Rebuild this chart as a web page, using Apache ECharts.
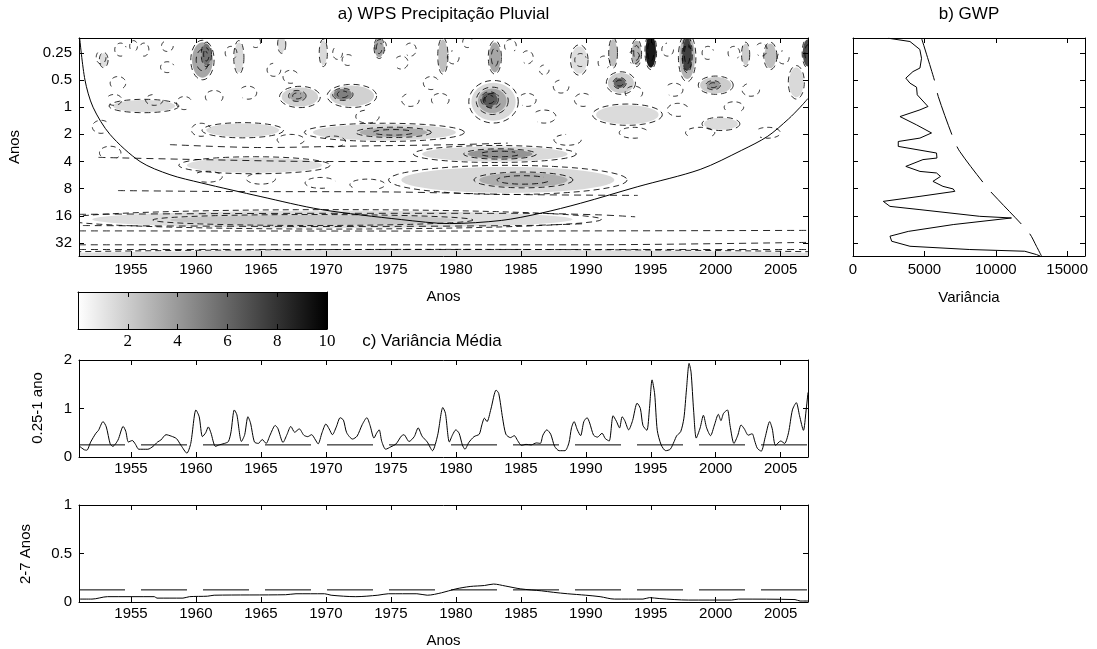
<!DOCTYPE html>
<html><head><meta charset="utf-8">
<script src="https://cdn.jsdelivr.net/npm/echarts@6/dist/echarts.min.js"></script>
<style>html,body{margin:0;padding:0;background:#fff}#c{width:1097px;height:649px}</style>
</head><body><div id="c"></div>
<script>
// ---------------- data ----------------
const yearTicks = [1955,1960,1965,1970,1975,1980,1985,1990,1995,2000,2005];
const periodTicks = [0.25,0.5,1,2,4,8,16,32];
const varianceTicks = [0,5000,10000,15000];
const colorbarTicks = [2,4,6,8,10];
const c1Ticks = [0,1,2];
const c2Ticks = [0,0.5,1];
const yearRange = [1951, 2007.1];
const periodRange = [0.171, 44.6];
const varianceRange = [0, 16250];
const colorbarRange = [0, 10];

// cone of influence [year, period]
const coi = [[1951.05,0.17],[1951.46,0.5],[1952.08,1],[1953.38,2],[1955.7,4],[1958,5.6],[1960.4,6.9],[1965,9.8],[1969.6,13.6],[1975.8,17.6],[1979.5,19.5],[1983.5,18],[1986.5,15],[1989.6,11.6],[1994,7.6],[1998.8,4.9],[2002,3],[2004,2.1],[2005.6,1.35],[2006.5,1],[2007.1,0.8]];

// global wavelet power [variance, period]
const gwp = [[2470,0.172],[3990,0.187],[4680,0.229],[4800,0.287],[4690,0.368],[4200,0.403],[3700,0.476],[3990,0.541],[4450,0.6],[4500,0.729],[5250,0.982],[4690,1.07],[3290,1.27],[4450,1.57],[5500,1.93],[4690,2.2],[3170,2.4],[3170,2.72],[5850,3.22],[5880,3.66],[4900,3.81],[3700,4.53],[4690,5.15],[5850,5.36],[6130,5.85],[5600,6.64],[6300,7.54],[7020,8.06],[7130,8.57],[4690,9.73],[2120,11.06],[2590,12.57],[4690,13.66],[8880,16.2],[11100,16.9],[7020,20],[3870,23.8],[2590,26.9],[2710,30.6],[3990,34.8],[8180,37.8],[12030,39.5],[12850,43],[13100,44.6]];
// significance of GWP [variance, period]
const gwpSig = [[4800,0.172],[5730,0.52],[5970,0.76],[7020,2.2],[7480,3.1],[9460,8.0],[10170,10.6],[12330,24.7],[12850,34.8],[13200,44.6]];

// filled power regions [year, period, halfWidthYears, halfHeightOctaves, level]
const blobs = [
 [1979,44,32,0.2,1.3],[1970.5,17.5,18.5,0.32,1.3],[1969,17.8,11,0.18,2.2],
 [1984,6.4,8.2,0.48,1.5],[1985.2,6.4,3.4,0.26,3.2],
 [1983,3.3,5.6,0.28,1.5],[1983.4,3.3,2.5,0.17,4.2],
 [1974.5,1.9,5.5,0.3,1.5],[1975.2,1.9,2.6,0.17,3.3],
 [1963.6,1.8,2.8,0.25,1.4],[1964.5,4.4,5.2,0.28,1.3],[1956,0.97,2.4,0.22,1.4],
 [1968,0.77,1.4,0.35,1.8],[1967.8,0.75,0.6,0.18,3.5],
 [1972,0.75,1.7,0.38,1.8],[1971.3,0.72,0.7,0.2,5],
 [1982.9,0.87,1.7,0.7,1.5],[1982.8,0.85,1.1,0.45,3.5],[1982.6,0.82,0.6,0.25,6.5],
 [1993.2,1.21,2.4,0.35,1.4],[2000.4,1.53,1.3,0.22,1.4],
 [1992.7,0.54,1.0,0.37,2],[1992.6,0.54,0.45,0.18,6],
 [2000,0.57,1.2,0.3,2],[1999.8,0.57,0.5,0.15,4],
 [1995,0.24,0.4,0.6,9],[1997.8,0.28,0.6,0.8,3],[1997.8,0.26,0.35,0.6,7.5],
 [1993.9,0.25,0.35,0.45,3],[1992.1,0.25,0.3,0.5,2.5],[2004.2,0.27,0.45,0.45,2.5],
 [2006.2,0.53,0.55,0.55,1.5],[2007.1,0.25,0.4,0.5,7],[1983,0.28,0.45,0.55,3.5],
 [1979,0.27,0.35,0.6,2.5],[1974.1,0.22,0.35,0.35,3.5],[1969.8,0.25,0.28,0.45,1.5],
 [1960.5,0.3,0.8,0.65,3.5],[1960.8,0.26,0.35,0.4,5.5],[1963.3,0.28,0.35,0.55,1.5],
 [1966.6,0.2,0.28,0.3,1.5],[1952.9,0.3,0.3,0.25,1.3],[1989.5,0.3,0.6,0.5,1.3],[2002.3,0.26,0.28,0.4,2]
];
// small dashed contour fragments [year, period, halfWidthYears, halfHeightOctaves]
const rings = [
 [1952.7,0.28,0.5,0.3],[1954.2,0.23,0.6,0.3],[1955.2,0.21,0.4,0.25],[1956,0.23,0.5,0.3],[1957.8,0.21,0.6,0.25],
 [1957.8,0.36,0.7,0.25],[1954,0.54,0.8,0.3],[1953.7,0.83,0.8,0.25],[1956.8,0.83,0.9,0.25],[1959.1,0.9,0.8,0.3],
 [1961.4,0.77,0.9,0.3],[1964,0.69,0.9,0.3],[1966,0.385,0.7,0.3],[1967.3,0.46,0.8,0.3],[1962.7,0.25,0.6,0.3],
 [1964.6,0.19,0.5,0.25],[1970.9,0.25,0.5,0.3],[1971.7,0.3,0.6,0.25],[1974.2,0.21,0.6,0.3],[1975.8,0.32,0.7,0.3],
 [1976.5,0.83,0.9,0.3],[1960.4,1.78,1.0,0.3],[1967.3,2.3,1.4,0.25],[1970.6,2.4,1.2,0.25],[1973.2,1.27,1.2,0.3],
 [1952.7,1.65,0.9,0.3],[1953.4,3.2,1.1,0.3],[1960.9,5.9,1.5,0.25],[1965,6.2,1.5,0.25],[1969.6,6.9,1.6,0.25],
 [1973.2,7.2,1.8,0.25],[1976.5,0.23,0.6,0.3],[1979.8,0.28,0.6,0.3],[1980.9,0.19,0.5,0.25],[1984.2,0.21,0.6,0.3],
 [1985.5,0.28,0.6,0.3],[1986.8,0.385,0.5,0.22],[1989.6,0.30,0.6,0.3],[1991.4,0.32,0.6,0.3],[1993.7,0.28,0.6,0.3],
 [1996.3,0.23,0.6,0.3],[1999.4,0.25,0.6,0.3],[2001.4,0.25,0.6,0.3],[2003.5,0.23,0.6,0.3],[2005.2,0.28,0.6,0.3],
 [1978.1,0.54,0.8,0.3],[1978.8,0.83,0.9,0.3],[1985.5,0.83,0.9,0.3],[1988.1,0.59,0.8,0.3],[1989.8,0.83,0.9,0.3],
 [1993.7,0.69,0.9,0.3],[1996.8,0.64,0.9,0.3],[2002.7,0.64,0.9,0.3],[1997.1,1.07,1.1,0.3],[2001.4,1.0,1.0,0.25],
 [1986.8,1.27,1.2,0.3],[1988.6,2.3,1.4,0.25],[1993.7,1.92,1.5,0.25],[1998.8,1.92,1.5,0.25],[2004,1.92,1.3,0.25]
];
// long dashed contour lines [year, period]
const contourPaths = [
 [[1951,15.4],[1970,15],[1985,15],[1991,15.6],[1993.8,16.4]],
 [[1951.3,20.5],[1970,21],[1985,20.5],[1989.8,19.6]],
 [[1951,23.5],[1980,23.6],[2007.1,23.2]],
 [[1951,33.5],[1990,33.5],[2007.1,31.5]],
 [[1951,37.8],[2007.1,37.8]],
 [[1954,8.4],[1962,8.6],[1975,8.7],[1985,9.3],[1994,9.5]],
 [[1952.5,3.6],[1960,3.8],[1970,4.0],[1977,4.0]],
 [[1958,2.6],[1965,2.8],[1972,2.7],[1980,2.6],[1984,2.5]]
];

// scale-averaged variance, 0.25-1 year band [year, value]
const band1 = [[1951.05,0.22],[1951.4,0.15],[1951.6,0.14],[1951.9,0.31],[1952.3,0.49],[1952.5,0.55],[1952.85,0.73],[1953.1,0.62],[1953.4,0.27],[1953.6,0.22],[1954.0,0.35],[1954.4,0.63],[1954.6,0.53],[1954.8,0.31],[1955.1,0.34],[1955.35,0.26],[1955.6,0.16],[1956.3,0.16],[1956.7,0.22],[1957.05,0.31],[1957.3,0.35],[1957.7,0.46],[1958.1,0.43],[1958.5,0.38],[1958.85,0.24],[1959.3,0.08],[1959.6,0.28],[1960.0,0.97],[1960.25,0.83],[1960.5,0.42],[1960.75,0.5],[1960.95,0.62],[1961.15,0.5],[1961.5,0.22],[1961.8,0.25],[1962.2,0.28],[1962.5,0.32],[1962.7,0.52],[1962.95,0.97],[1963.15,0.87],[1963.5,0.32],[1963.75,0.46],[1964.0,0.83],[1964.2,0.7],[1964.5,0.31],[1964.8,0.28],[1965.1,0.36],[1965.4,0.28],[1965.7,0.45],[1966.1,0.65],[1966.3,0.59],[1966.7,0.3],[1967.0,0.46],[1967.3,0.63],[1967.6,0.51],[1967.95,0.58],[1968.3,0.45],[1968.6,0.42],[1968.9,0.46],[1969.2,0.35],[1969.4,0.27],[1969.7,0.5],[1970.0,0.68],[1970.25,0.58],[1970.5,0.46],[1970.8,0.62],[1971.1,0.81],[1971.35,0.76],[1971.6,0.5],[1972.05,0.37],[1972.4,0.43],[1972.8,0.67],[1973.15,0.81],[1973.4,0.65],[1973.7,0.39],[1973.9,0.49],[1974.1,0.56],[1974.3,0.32],[1974.6,0.16],[1975.0,0.21],[1975.4,0.27],[1975.8,0.43],[1976.0,0.46],[1976.4,0.32],[1976.8,0.42],[1977.1,0.6],[1977.4,0.43],[1977.8,0.31],[1978.2,0.13],[1978.6,0.45],[1979.0,1.02],[1979.2,0.9],[1979.5,0.31],[1979.75,0.46],[1980.0,0.56],[1980.25,0.49],[1980.5,0.25],[1980.7,0.16],[1981.0,0.3],[1981.4,0.42],[1981.8,0.47],[1982.0,0.66],[1982.2,0.8],[1982.4,0.73],[1982.7,0.99],[1983.1,1.38],[1983.3,1.31],[1983.6,0.8],[1983.85,0.47],[1984.2,0.4],[1984.5,0.44],[1984.75,0.34],[1985.05,0.24],[1985.4,0.26],[1985.8,0.25],[1986.2,0.29],[1986.5,0.28],[1986.7,0.45],[1987.0,0.56],[1987.3,0.47],[1987.6,0.22],[1987.95,0.13],[1988.4,0.13],[1988.7,0.29],[1988.9,0.6],[1989.1,0.73],[1989.35,0.56],[1989.6,0.44],[1989.85,0.73],[1990.1,0.81],[1990.3,0.7],[1990.6,0.45],[1990.9,0.41],[1991.25,0.49],[1991.5,0.38],[1991.8,0.33],[1992.1,0.85],[1992.35,0.74],[1992.6,0.6],[1992.8,0.83],[1993.0,0.75],[1993.3,0.56],[1993.6,0.75],[1993.95,1.11],[1994.2,1.0],[1994.4,0.65],[1994.7,0.55],[1994.9,1.0],[1995.1,1.59],[1995.3,1.3],[1995.5,0.55],[1995.8,0.25],[1996.15,0.13],[1996.5,0.16],[1996.8,0.32],[1997.0,0.44],[1997.3,0.52],[1997.55,0.8],[1997.75,1.4],[1997.95,1.93],[1998.1,1.75],[1998.3,0.95],[1998.5,0.39],[1998.8,0.6],[1999.05,0.86],[1999.3,0.6],[1999.6,0.44],[1999.9,0.66],[2000.2,0.88],[2000.4,0.75],[2000.6,0.9],[2000.9,0.97],[2001.1,0.65],[2001.4,0.28],[2001.7,0.45],[2001.95,0.66],[2002.2,0.58],[2002.5,0.45],[2002.8,0.48],[2003.0,0.33],[2003.2,0.18],[2003.5,0.12],[2003.8,0.4],[2004.15,0.73],[2004.35,0.58],[2004.6,0.24],[2005.0,0.33],[2005.3,0.28],[2005.6,0.5],[2005.9,0.97],[2006.2,1.12],[2006.45,0.85],[2006.75,0.55],[2006.95,0.95],[2007.1,1.33]];
// scale-averaged variance, 2-7 year band [year, value]
const band2 = [[1951,0.03],[1952,0.03],[1953.2,0.055],[1956.8,0.055],[1957,0.04],[1959,0.04],[1959.5,0.055],[1960.9,0.06],[1961.4,0.07],[1966.9,0.075],[1967.7,0.085],[1969.9,0.085],[1970.4,0.07],[1972.3,0.055],[1974,0.07],[1974.8,0.085],[1977,0.085],[1977.8,0.07],[1978.9,0.095],[1980,0.135],[1981.1,0.16],[1982.2,0.17],[1982.9,0.185],[1983.8,0.165],[1985,0.135],[1986.6,0.115],[1987.5,0.1],[1988.6,0.085],[1990,0.07],[1991.1,0.055],[1992.2,0.03],[1994.4,0.03],[1994.9,0.045],[1995.7,0.035],[1997.9,0.02],[2001.2,0.02],[2001.75,0.03],[2006.1,0.025],[2006.5,0.01],[2007.1,0.01]];
const sig1 = 0.25;
const sig2 = 0.125;

// ---------------- chart ----------------
const L = Math.log2;
const FONT = "'Liberation Sans', Arial, Helvetica, sans-serif";
const chart = echarts.init(document.getElementById('c'), null, {renderer:'canvas'});
function grey(level){ const g = Math.round(255*(1-level/10)); return 'rgb('+g+','+g+','+g+')'; }
function ellipse(cx, cy, rx, ry, a0, a1){
  a0 = a0 || 0; a1 = (a1 === undefined) ? 2*Math.PI : a1;
  const p=[]; const n=48;
  for(let i=0;i<=n;i++){ const t=a0+(a1-a0)*i/n; p.push([cx+rx*Math.cos(t), cy+ry*Math.sin(t)]);}
  return p;
}

const lblStyle = {color:'#000', fontSize:15, fontFamily:FONT};
function xAx(grid, range, ticks, pos, showLabel, extra){
  return Object.assign({type:'value', gridIndex:grid, min:range[0], max:range[1], position:pos, z:10,
    axisLine:{show:true, onZero:false, lineStyle:{color:'#000', width:1}},
    axisTick:{show:true, inside:true, length:5, lineStyle:{color:'#000'}, customValues:ticks},
    axisLabel:{show:showLabel, customValues:ticks, formatter:v=>String(v), margin:6, ...lblStyle},
    splitLine:{show:false}}, extra||{});
}
function yAx(grid, range, ticks, pos, showLabel, extra){
  return Object.assign({type:'value', gridIndex:grid, min:range[0], max:range[1], position:pos, z:10,
    axisLine:{show:true, onZero:false, lineStyle:{color:'#000', width:1}},
    axisTick:{show:true, inside:true, length:5, lineStyle:{color:'#000'}, customValues:ticks},
    axisLabel:{show:showLabel, customValues:ticks, formatter:v=>String(v), margin:7, ...lblStyle},
    splitLine:{show:false}}, extra||{});
}
const logRange = [L(periodRange[0]), L(periodRange[1])];
const logTicks = periodTicks.map(L);
const periodFmt = v => String(+Math.pow(2, v).toFixed(2));

const grids = [
  {left:79, top:38, width:729, height:218},
  {left:853, top:38, width:232, height:218},
  {left:78, top:292, width:249, height:37},
  {left:79, top:360, width:729, height:97},
  {left:79, top:505, width:729, height:97}
].map(g => Object.assign({show:false, outerBoundsMode:'none', containLabel:false}, g));

const xAxis = [
  xAx(0, yearRange, yearTicks, 'bottom', true),
  xAx(0, yearRange, yearTicks, 'top', false),
  xAx(1, varianceRange, varianceTicks, 'bottom', true),
  xAx(1, varianceRange, varianceTicks, 'top', false),
  xAx(2, colorbarRange, colorbarTicks.filter(v=>v<10), 'bottom', true, {axisLabel:{show:true, customValues:colorbarTicks, formatter:v=>String(v), margin:4, color:'#000', fontSize:17, fontFamily:"'Liberation Serif', 'DejaVu Serif', serif"}}),
  xAx(2, colorbarRange, colorbarTicks.filter(v=>v<10), 'top', false),
  xAx(3, yearRange, yearTicks, 'bottom', true),
  xAx(3, yearRange, yearTicks, 'top', false),
  xAx(4, yearRange, yearTicks, 'bottom', true),
  xAx(4, yearRange, yearTicks, 'top', false)
];
xAxis[6].axisLabel.margin = 4;
xAxis[8].axisLabel.margin = 4;
const yAxis = [
  yAx(0, logRange, logTicks, 'left', true, {inverse:true}),
  yAx(0, logRange, logTicks, 'right', false, {inverse:true}),
  yAx(1, logRange, logTicks, 'left', false, {inverse:true}),
  yAx(1, logRange, logTicks, 'right', false, {inverse:true}),
  yAx(2, [0,1], [], 'left', false, {axisTick:{show:false}}),
  yAx(3, [0,2], c1Ticks, 'left', true),
  yAx(3, [0,2], c1Ticks, 'right', false),
  yAx(4, [0,1], c2Ticks, 'left', true),
  yAx(4, [0,1], c2Ticks, 'right', false),
  yAx(2, [0,1], [], 'right', false, {axisTick:{show:false}})
];
yAxis[0].axisLabel.formatter = periodFmt;

const series = [];
const blobData = blobs.map(b=>[b[0], L(b[1]), b[2], b[3], b[4]]);
// filled regions
series.push({type:'custom', xAxisIndex:0, yAxisIndex:0, clip:true, z:2, silent:true,
  data: blobData, encode:{x:0, y:1},
  renderItem:(params, api)=>{
    const c = api.coord([api.value(0), api.value(1)]);
    const s = api.size([api.value(2), api.value(3)]);
    return {type:'polygon', shape:{points:ellipse(c[0], c[1], Math.abs(s[0]), Math.abs(s[1]))}, style:{fill:grey(api.value(4)), stroke:null}};
  }});
// dashed contour outlines of the regions
series.push({type:'custom', xAxisIndex:0, yAxisIndex:0, clip:true, z:3, silent:true,
  data: blobData, encode:{x:0, y:1},
  renderItem:(params, api)=>{
    const c = api.coord([api.value(0), api.value(1)]);
    const s = api.size([api.value(2), api.value(3)]);
    const rx = Math.abs(s[0]), ry = Math.abs(s[1]);
    const lv = api.value(4);
    const st = {fill:'none', stroke:'#000', lineWidth:0.85, lineDash:[6,4]};
    const kids = [{type:'polyline', shape:{points:ellipse(c[0], c[1], rx*1.12, ry*1.12)}, style:st}];
    if (lv >= 3) kids.push({type:'polyline', shape:{points:ellipse(c[0], c[1], rx*0.6, ry*0.6, 0.4, 5.6)}, style:st});
    return {type:'group', children:kids};
  }});
// small dashed fragments
series.push({type:'custom', xAxisIndex:0, yAxisIndex:0, clip:true, z:3, silent:true,
  data: rings.map(r=>[r[0], L(r[1]), r[2], r[3]]), encode:{x:0, y:1},
  renderItem:(params, api)=>{
    const c = api.coord([api.value(0), api.value(1)]);
    const s = api.size([api.value(2), api.value(3)]);
    const a0 = (params.dataIndex % 4) * 1.3;
    return {type:'polyline', shape:{points:ellipse(c[0], c[1], Math.abs(s[0])*0.75, Math.abs(s[1])*0.8, a0, a0+4.6)}, style:{fill:'none', stroke:'#000', lineWidth:0.85, lineDash:[5,4]}};
  }});
// long dashed contour paths
contourPaths.forEach(p=>{
  series.push({type:'line', xAxisIndex:0, yAxisIndex:0, z:3, silent:true, showSymbol:false, smooth:0.3,
    data:p.map(q=>[q[0], L(q[1])]), lineStyle:{color:'#000', width:0.85, type:[7,5]}});
});
// cone of influence
series.push({type:'line', xAxisIndex:0, yAxisIndex:0, z:4, silent:true, showSymbol:false, smooth:0.3,
  data:coi.map(q=>[q[0], L(q[1])]), lineStyle:{color:'#000', width:1}});
// GWP
series.push({type:'line', xAxisIndex:2, yAxisIndex:2, z:4, silent:true, showSymbol:false,
  data:gwp.map(q=>[q[0], L(q[1])]), lineStyle:{color:'#000', width:1}});
series.push({type:'line', xAxisIndex:2, yAxisIndex:2, z:4, silent:true, showSymbol:false, smooth:0.3,
  data:gwpSig.map(q=>[q[0], L(q[1])]), lineStyle:{color:'#000', width:1, type:[44,13]}});
// colorbar
series.push({type:'custom', xAxisIndex:4, yAxisIndex:4, z:2, silent:true,
  data:[[colorbarRange[0], colorbarRange[1]]], encode:{x:[0,1]},
  renderItem:(params, api)=>{
    const p0 = api.coord([api.value(0), 0]);
    const p1 = api.coord([api.value(1), 1]);
    return {type:'rect', shape:{x:p0[0], y:p1[1], width:p1[0]-p0[0], height:p0[1]-p1[1]},
      style:{fill:new echarts.graphic.LinearGradient(0,0,1,0,[{offset:0,color:'#ffffff'},{offset:1,color:'#000000'}]), stroke:null}};
  }});
// scale-averaged variances
series.push({type:'line', xAxisIndex:6, yAxisIndex:5, z:4, silent:true, showSymbol:false, smooth:0.25,
  data:band1, lineStyle:{color:'#000', width:1}});
series.push({type:'line', xAxisIndex:6, yAxisIndex:5, z:4, silent:true, showSymbol:false,
  data:[[yearRange[0], sig1],[yearRange[1], sig1]], lineStyle:{color:'#000', width:1, type:[46,16]}});
series.push({type:'line', xAxisIndex:8, yAxisIndex:7, z:4, silent:true, showSymbol:false, smooth:0.3,
  data:band2, lineStyle:{color:'#000', width:1}});
series.push({type:'line', xAxisIndex:8, yAxisIndex:7, z:4, silent:true, showSymbol:false,
  data:[[yearRange[0], sig2],[yearRange[1], sig2]], lineStyle:{color:'#000', width:1, type:[46,16]}});

function txt(x, y, s, size, rot){
  return {type:'text', x:x, y:y, rotation:rot||0, z:20, silent:true,
    style:{text:s, fill:'#000', font:(size||15)+'px '+FONT, textAlign:'center', textVerticalAlign:'middle'}};
}
const graphic = [
  txt(443.5, 14, 'a) WPS Precipitação Pluvial', 17),
  txt(969, 14, 'b) GWP', 17),
  txt(443.5, 297, 'Anos', 15),
  txt(969, 298, 'Variância', 15),
  txt(15, 147, 'Anos', 15, Math.PI/2),
  txt(432, 341, 'c) Variância Média', 17),
  txt(38, 408, '0.25-1 ano', 15, Math.PI/2),
  txt(26, 554, '2-7 Anos', 15, Math.PI/2),
  txt(443.5, 641, 'Anos', 15)
];

chart.setOption({animation:false, backgroundColor:'#fff', grid:grids, xAxis:xAxis, yAxis:yAxis, series:series, graphic:graphic});
</script></body></html>
